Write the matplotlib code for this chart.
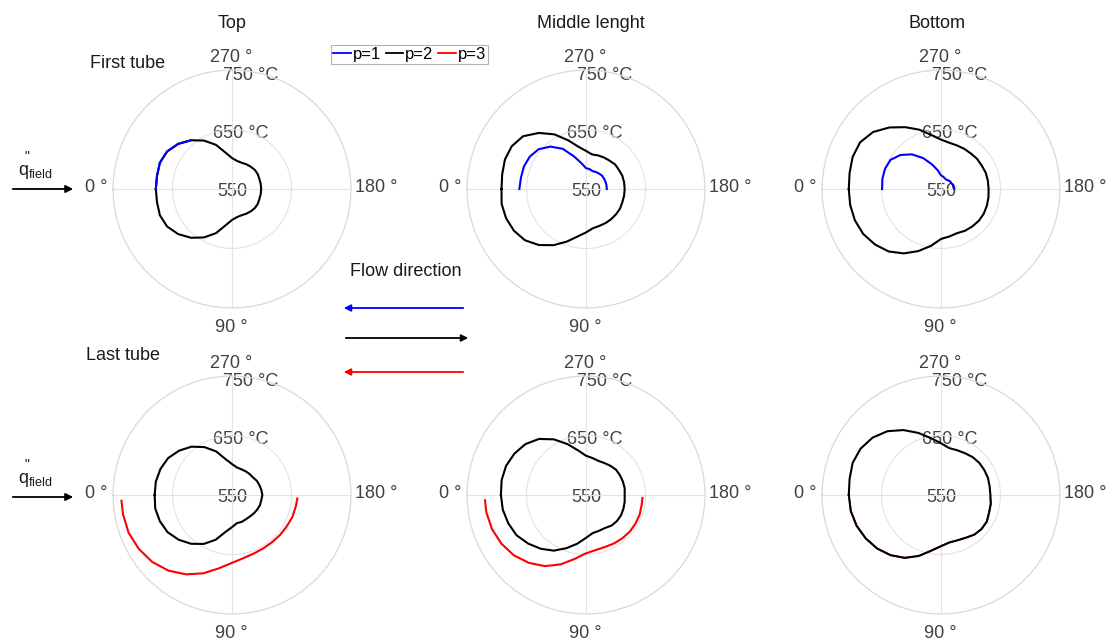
import numpy as np
import matplotlib
matplotlib.use("Agg")
import matplotlib.pyplot as plt
from matplotlib.patches import FancyArrowPatch
from matplotlib.lines import Line2D

plt.rcParams["font.family"] = ["Liberation Sans", "DejaVu Sans"]

# angles in degrees (0 = heated side, facing the flux)
THETA_FULL = list(range(0, 360, 10))
THETA_TOP_HALF = list(range(180, 361, 10))
THETA_RED = [3] + list(range(10, 180, 10)) + [177]
THETA_TL_BLUE = [310, 320, 330, 340, 350, 360]

# wall temperatures (°C)
# first tube
TL_P1 = [657, 668, 676, 679, 678, 678]
TL_P2 = [678, 678, 679, 676, 668, 657, 644, 629, 612, 602, 598, 597,
         598, 599, 600, 600, 599, 599, 599, 599, 599, 600, 600, 599,
         598, 597, 598, 602, 612, 629, 644, 657, 668, 676, 679, 678]
TM_P1 = [585, 585, 585, 585, 585, 584, 583, 582, 584, 585, 594, 608,
         628, 643, 654, 659, 661, 661, 662]
TM_P2 = [692, 694, 693, 690, 684, 673, 659, 644, 631, 623, 617, 616,
         616, 616, 616, 616, 615, 615, 615, 615, 615, 614, 614, 612,
         611, 610, 609, 614, 622, 637, 656, 673, 688, 694, 695, 693]
TR_P1 = [572, 571, 571, 570, 570, 569, 568, 569, 571, 573, 582, 594,
         610, 626, 639, 648, 650, 650, 649]
TR_P2 = [705, 705, 704, 701, 695, 687, 675, 661, 647, 634, 631, 629,
         631, 632, 633, 633, 632, 631, 630, 630, 630, 629, 629, 628,
         628, 628, 629, 633, 642, 656, 670, 685, 699, 707, 708, 706]
# last tube
BL_P2 = [680, 681, 679, 675, 667, 657, 645, 630, 613, 604, 598, 598,
         597, 597, 598, 599, 600, 600, 601, 600, 599, 598, 596, 596,
         596, 596, 597, 602, 611, 628, 643, 656, 666, 674, 678, 680]
BL_P3 = [736, 736, 735, 731, 725, 716, 704, 690, 675, 664, 658, 655,
         654, 654, 655, 656, 658, 659, 660]
BM_P2 = [693, 692, 689, 685, 677, 668, 658, 645, 633, 622, 615, 614,
         614, 617, 618, 618, 617, 616, 615, 616, 616, 616, 616, 614,
         612, 611, 613, 616, 626, 641, 658, 673, 683, 689, 693, 694]
BM_P3 = [720, 720, 718, 714, 708, 699, 688, 674, 659, 648, 644, 643,
         644, 645, 646, 646, 646, 645, 645]
BR_P2 = [705, 704, 701, 696, 690, 682, 672, 659, 645, 636, 631, 631,
         633, 637, 639, 639, 636, 635, 633, 633, 634, 634, 634, 633,
         631, 630, 630, 637, 647, 661, 676, 690, 700, 706, 708, 706]
BR_P3 = [704, 704, 701, 696, 690, 682, 672, 659, 645, 636, 631, 631,
         633, 637, 639, 639, 636, 635, 633]

COL_TITLES = ["Top", "Middle lenght", "Bottom"]
ROW_TITLES = ["First tube", "Last tube"]
LEGEND_LABELS = ["p=1", "p=2", "p=3"]
COLORS = ["#0000ff", "#000000", "#ff0000"]

W, H = 1115, 640
TXT = "#404040"


def fx(x):
    return x / W


def fy(y):
    return 1 - y / H


def closed(theta, vals):
    return np.deg2rad(list(theta) + [theta[0] + 360]), list(vals) + [vals[0]]


def panel(cx, cy, rad=119):
    ax = fig.add_axes([fx(cx - rad), fy(cy + rad), 2 * rad / W, 2 * rad / H],
                      projection="polar")
    ax.set_theta_zero_location("W")
    ax.set_theta_direction(1)
    ax.set_rlim(550, 750)
    ax.set_rticks([650, 750])
    ax.set_yticklabels([])
    ax.set_thetagrids([0, 90, 180, 270])
    ax.set_xticklabels([])
    ax.grid(True, color="#e3e3e3", lw=0.8)
    ax.spines["polar"].set_color("#d9d9d9")
    ax.spines["polar"].set_linewidth(0.8)
    # angle labels
    for lab, off in [("0 °", (-136, 1)), ("180 °", (144, 1)),
                     ("270 °", (-1, 132)), ("90 °", (-1, -138))]:
        ax.annotate(lab, xy=(0.5, 0.5), xycoords="axes fraction", xytext=off,
                    textcoords="offset pixels", ha="center", va="center",
                    fontsize=13, color=TXT)
    # temperature labels
    for r, lab, off in [(550, "550", (0, -2)), (650, "650 °C", (9, -4)),
                        (750, "750 °C", (19, -5))]:
        ax.annotate(lab, xy=(np.deg2rad(270), r), xytext=off,
                    textcoords="offset pixels", ha="center", va="center",
                    fontsize=13, color=TXT, zorder=1)
    return ax


fig = plt.figure(figsize=(W / 100, H / 100), dpi=100)

xs = [232, 586, 941]
ys = [189, 495]
axes = [[panel(x, y) for x in xs] for y in ys]

lw = 1.5
# first tube
ax = axes[0][0]
ax.plot(*closed(THETA_FULL, TL_P2), color=COLORS[1], lw=lw)
ax.plot(np.deg2rad(THETA_TL_BLUE), TL_P1, color=COLORS[0], lw=lw)
ax = axes[0][1]
ax.plot(*closed(THETA_FULL, TM_P2), color=COLORS[1], lw=lw)
ax.plot(np.deg2rad(THETA_TOP_HALF), TM_P1, color=COLORS[0], lw=lw)
ax = axes[0][2]
ax.plot(*closed(THETA_FULL, TR_P2), color=COLORS[1], lw=lw)
ax.plot(np.deg2rad(THETA_TOP_HALF), TR_P1, color=COLORS[0], lw=lw)
# last tube
ax = axes[1][0]
ax.plot(np.deg2rad(THETA_RED), BL_P3, color=COLORS[2], lw=lw)
ax.plot(*closed(THETA_FULL, BL_P2), color=COLORS[1], lw=lw)
ax = axes[1][1]
ax.plot(np.deg2rad(THETA_RED), BM_P3, color=COLORS[2], lw=lw)
ax.plot(*closed(THETA_FULL, BM_P2), color=COLORS[1], lw=lw)
ax = axes[1][2]
ax.plot(np.deg2rad(THETA_RED), BR_P3, color=COLORS[2], lw=1.2)
ax.plot(*closed(THETA_FULL, BR_P2), color=COLORS[1], lw=lw)

# column / row titles
for x, t in zip([232, 591, 937], COL_TITLES):
    fig.text(fx(x), fy(23), t, ha="center", va="center", fontsize=13, color="#1a1a1a")
fig.text(fx(128), fy(63), ROW_TITLES[0], ha="center", va="center", fontsize=13, color="#1a1a1a")
fig.text(fx(123), fy(356), ROW_TITLES[1], ha="center", va="center", fontsize=13, color="#1a1a1a")

# heat flux arrows
for ya in [189, 497]:
    fig.add_artist(FancyArrowPatch((fx(10), fy(ya)), (fx(76), fy(ya)),
                                   transform=fig.transFigure, arrowstyle="-|>",
                                   mutation_scale=11, lw=1.3, color="black"))
    fig.text(fx(18), fy(ya - 17), r"$\mathregular{q_{field}}$", ha="left",
             va="center", fontsize=13, color="#1a1a1a")
    fig.text(fx(27), fy(ya - 32), '"', ha="center", va="center",
             fontsize=10, color="#1a1a1a")

# flow direction
fig.text(fx(406), fy(271), "Flow direction", ha="center", va="center",
         fontsize=13, color="#1a1a1a")
for (x0, x1, ya), c in zip([(466, 341, 308), (343, 471, 338), (466, 341, 372)], COLORS):
    fig.add_artist(FancyArrowPatch((fx(x0), fy(ya)), (fx(x1), fy(ya)),
                                   transform=fig.transFigure, arrowstyle="-|>",
                                   mutation_scale=10, lw=1.3, color=c))

handles = [Line2D([], [], color=c, lw=1.3) for c in COLORS]
leg = fig.legend(handles, LEGEND_LABELS, loc="center", bbox_to_anchor=(fx(409.5), fy(54.5)),
                 ncol=3, fontsize=12, frameon=True, fancybox=False, handlelength=1.05,
                 handletextpad=0.1, columnspacing=0.3, borderpad=0.12, borderaxespad=0)
leg.get_frame().set_edgecolor("#a0a0a0")
leg.get_frame().set_linewidth(0.8)

fig.savefig("out.png", dpi=100)
